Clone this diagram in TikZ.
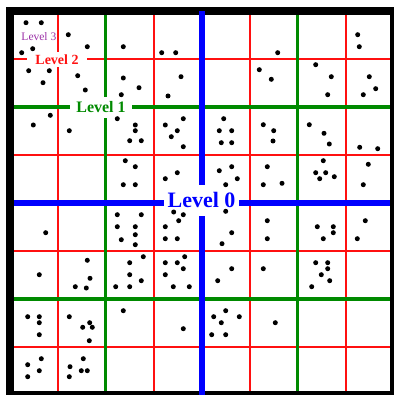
\documentclass[tikz,border=0pt]{standalone}
\usepackage{fontspec}
\setmainfont{Liberation Serif}
\usepackage{xcolor}
\usepackage{tikz}
\usetikzlibrary{positioning}
\definecolor{lvlzero}{HTML}{0000FF}
\definecolor{lvlone}{HTML}{008A00}
\definecolor{lvltwo}{HTML}{FF1010}
\definecolor{lvlthree}{HTML}{9A2FA6}
\tikzset{
    every picture/.style={line cap=butt,line join=miter},
    gridzero/.style={draw=lvlzero,line width=6pt},
    gridone/.style={draw=lvlone,line width=3.5pt},
    gridtwo/.style={draw=lvltwo,line width=1.6pt},
    quadframe/.style={draw=black,line width=8pt},
    levellabel/.style={fill=white,inner sep=0pt,align=center},
    datapt/.style={circle,fill=black,inner sep=0pt,minimum size=5pt}
}

\begin{document}
\begin{tikzpicture}[x=1pt,y=-1pt]
  \useasboundingbox (0,0) rectangle (393,395);
  \coordinate (nw) at (9.7,11);
  \coordinate (se) at (393.7,395);
  \foreach \k in {1,3,5,7}{
    \draw[gridtwo] (9.7+48*\k,11) -- (9.7+48*\k,395);
    \draw[gridtwo] (9.7,11+48*\k) -- (393.7,11+48*\k);}
  \foreach \k in {2,6}{
    \draw[gridone] (9.7+48*\k,11) -- (9.7+48*\k,395);
    \draw[gridone] (9.7,11+48*\k) -- (393.7,11+48*\k);}
  \draw[gridzero] (9.7,203) -- (393.7,203);
  \draw[quadframe] (nw) rectangle (se);
  \draw[gridzero] (201.7,11) -- (201.7,395);
  \node[levellabel,text=lvlzero,font=\fontsize{22}{22}\selectfont\bfseries,
    minimum width=75pt,minimum height=31pt] (lvl0) at (201.5,200) {Level 0};
  \node[levellabel,text=lvlone,font=\fontsize{16}{16}\selectfont\bfseries,
    minimum width=62pt,minimum height=21pt] (lvl1) at (101,107.5) {Level 1};
  \node[levellabel,text=lvltwo,font=\fontsize{14}{14}\selectfont\bfseries,
    minimum width=60pt,minimum height=15pt] (lvl2) at (57,59.5) {Level 2};
  \node[text=lvlthree,font=\fontsize{11.5}{11.5}\selectfont,inner sep=0pt]
    (lvl3) at (38.9,36.7) {Level 3};
  \foreach \px/\py [count=\i] in {26/22.7,41.3/22.7,68.3/34.7,87.3/46.7,123.3/46.7,
    161.7/52.7,175.7/52.7,21.7/52.7,32.7/48.7,28.7/70.7,49.3/70.7,43/82.7,77.7/75.7,
    85.3/90,123.3/78,139/87.7,121.3/94.7,181/76.7,168/96,50.3/115.3,33.3/125,
    69.3/130.7,117.3/118.7,135.3/125,135.3/130.7,129.7/140.7,141.3/140.7,165.3/125,
    183.3/118.7,177.3/130.7,171.3/136.7,183.3/146.7,125.3/160.7,135.3/166.7,
    123.3/184.7,135.3/184.7,177.3/172.7,165.3/178.7,
    277.7/52.7,357.7/34.7,359.3/46.7,259.3/69.7,271.3/79.3,315.7/64.7,331.3/76.7,
    327.7/94.7,369.3/76.7,375.7/88.7,363.3/94.7,223.7/118.7,219.3/130.7,231.7/130.7,
    221.3/142.7,231.7/142.7,263.3/124.7,273.7/130.7,273/141,309.3/124.7,324/133.3,
    329.3/144,359.7/147.3,377.7/148.7,219.3/170.7,231.7/166.7,237.3/178.7,225.7/184.7,
    267.3/166.7,263.3/184.7,282/183.3,323.3/160.7,315.7/172.7,325.7/172.7,319.7/178.7,
    334.3/176.7,368.3/164.3,363.3/184.7,
    45.7/232.7,117.3/214.7,141.3/214.7,117.3/226.7,135.3/226.7,135.3/234.7,121.3/239.7,
    135.3/244.7,173.7/212,183.3/214.7,178.7/220.7,165.3/226.7,165.3/238.7,177.3/238.7,
    39.3/274.7,87.3/260.3,90/278.3,75.3/286.7,86.3/288,129.7/262.7,143.3/256.7,
    129.7/274.7,141.3/280.7,115.7/286.7,129.7/286.7,165.3/262.7,177.3/262.7,184.7/256.7,
    183.3/268.7,165.3/274.7,173.3/286.7,189.3/286.7,27.7/316.7,39.3/316.7,39.3/322.7,
    39.3/334.7,69.3/316.7,89.7/322.7,82.7/327.3,92.3/327.3,89.3/340.7,123.3/310.7,
    183.3/328.7,41.3/358.7,27.7/364.7,39.3/370.7,27.7/376.7,83.3/358.7,70/366.7,
    81.3/370.7,87.3/370.7,69.3/376.7,
    225.7/211.3,231.7/232.7,222/243.7,267.3/220.7,267.3/238.7,317.3/226.7,333.3/226.7,
    333.3/232.7,323.3/238.7,365.3/220.7,357.3/238.7,231.7/268.7,217.7/280.7,263.3/268.7,
    315.7/262.7,327.7/262.7,327.7/268.7,321.3/274.7,329.7/280.7,311.7/286.7,225.7/310.7,
    213.7/316.7,239.3/316.7,221.3/322.7,211.7/334.7,225.7/334.7,275.3/322.7}
    \node[datapt] (p\i) at (\px,\py) {};
\end{tikzpicture}
\end{document}
